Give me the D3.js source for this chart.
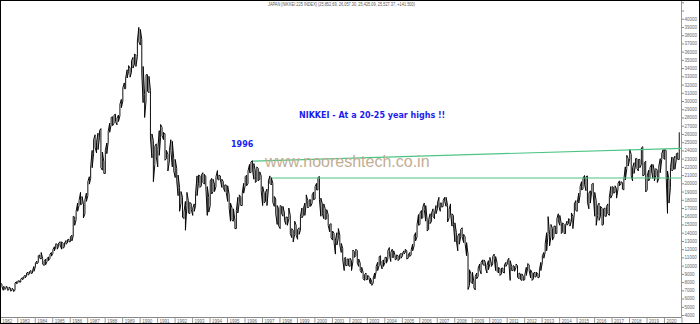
<!DOCTYPE html>
<html>
<head>
<meta charset="utf-8">
<script src="https://cdn.jsdelivr.net/npm/d3@7"></script>
<style>
  body { margin: 0; background: #fff; }
  svg { display: block; }
</style>
</head>
<body>
<svg id="chart" width="700" height="324"></svg>
<script>
// monthly low / high of the index, one line per year, from Jan 1982
var startYear = 1982;
var monthLow = [
  7600,7450,7000,7100,7250,7000,7100,6900,7000,6850,7000,7800,
  7900,8000,8000,8300,8400,8500,8750,8850,9000,9050,9100,9300,
  9850,10200,10400,10900,10800,10200,10000,10100,10500,10600,10900,11150,
  11500,11800,12250,12000,12350,12500,12000,12100,12300,12600,12750,12900,
  12900,13000,13600,14900,15600,16600,17300,17400,17500,15800,16300,17800,
  18500,19900,20600,21900,23600,24400,23700,24100,25600,21900,21600,21200,
  21200,23600,25000,26200,27100,27000,27300,27500,27100,27500,28200,29200,
  30000,31500,31500,32800,33600,32900,33500,34000,34500,34200,35400,37200,
  36800,33300,29800,28000,30000,31200,31000,25500,23100,20200,22300,23200,
  22000,23400,25600,25800,25300,22800,23000,21500,22700,24000,22000,21500,
  20700,20300,18500,16600,17600,15900,15700,14300,17300,16400,16300,16800,
  16100,16600,17300,18500,20000,19500,19700,20100,19900,19600,16100,16500,
  17300,18700,19000,19000,19600,20500,20400,20400,19500,19500,19000,18900,
  17800,17000,15400,15500,15400,14500,14500,16400,17700,17300,17300,18800,
  19700,19700,20000,21300,21300,21700,20500,20100,20300,20300,20500,19100,
  17300,17600,17800,17300,19300,20000,19800,17700,17200,16300,15000,14800,
  14500,16300,16000,15500,15000,14900,15700,13900,13400,12880,13800,13700,
  13200,13800,14300,15800,16100,16100,17600,17000,17200,17200,17600,18000,
  18100,19200,19200,18000,16000,16300,15700,15600,15700,14900,14100,13400,
  13100,12800,11400,12500,13300,12500,11600,10700,9400,10000,10000,10000,
  9900,9400,10500,11000,11200,10300,9900,9400,9100,8400,8200,8300,
  8300,8400,7800,7600,7900,8400,9300,9400,10000,10200,9600,9900,
  10400,10300,10800,11400,10500,11000,11000,10700,10800,10600,10800,10900,
  11200,11400,11600,10800,10900,11100,11300,11800,12400,13000,13500,14900,
  15000,15700,15800,16800,15400,14200,14400,15100,15400,16000,15700,16300,
  16900,17200,16600,17100,17200,17800,17200,15300,15800,16400,14800,15000,
  12900,13000,11800,12600,13500,13500,12800,12700,11200,7100,7600,8000,
  7800,7300,7050,8400,8700,9500,9000,10200,10000,9700,9100,9500,
  10200,9900,10200,10900,9400,9300,9100,8800,9000,9200,9100,9900,
  10200,10400,8200,9400,9400,9300,9800,8600,8400,8300,8200,8200,
  8300,8800,9700,9400,8500,8200,8400,8600,8700,8500,8600,9400,
  10400,10900,11600,11800,13900,12400,13600,13100,13500,13900,13900,15400,
  14900,13900,14100,13900,13900,14900,15100,14800,15400,14500,16400,16700,
  16600,17600,18600,19200,19300,19900,19100,17700,16900,17600,19100,18600,
  16000,14900,16100,15500,16000,14900,15000,16000,16000,16300,16100,18200,
  18600,18800,18900,18200,19300,19700,19900,19300,19200,20400,21800,22100,
  23000,20900,20300,21200,22100,21800,21500,21900,22300,20900,21000,18950,
  19200,20300,20600,21500,20600,20300,21000,20100,20600,21300,22900,23100,
  22900,21000,16350,17600,19500,21500,21700,21700,22900,22900,22900
];
var monthHigh = [
  7900,7750,7450,7400,7500,7350,7400,7250,7250,7100,7900,8050,
  8150,8150,8350,8550,8650,8850,9100,9200,9300,9400,9400,9900,
  10300,10550,11200,11300,11600,10850,10500,10800,10900,11050,11400,11600,
  11950,12300,12650,12600,12750,12900,12900,12700,12750,13050,13150,13200,
  13500,13700,16000,15900,16600,17600,17900,18900,18400,17500,18000,18800,
  20200,20800,22000,24000,25300,25900,25000,26100,26400,26650,23800,22600,
  24000,24900,26300,27300,28000,28100,28300,28400,27900,28300,29600,30200,
  31600,32200,32800,33800,34300,34000,34900,35300,35700,35600,37300,38950,
  38700,37500,34200,30800,33200,33200,33000,31300,26000,25200,24500,24800,
  24100,26400,27150,26800,26200,26000,24000,23500,24000,25300,25100,23000,
  22900,21800,21000,19500,19000,18300,16500,17800,18900,17900,17700,17500,
  17000,17500,18800,20900,21000,20900,21000,21300,21100,20800,19600,18300,
  20300,20600,20500,19900,20800,21550,21000,20900,20500,20200,19800,19800,
  19700,18600,17600,17000,16900,15500,16700,18300,18600,18300,18800,20000,
  20800,21000,21500,22300,22600,22750,22400,21500,22000,21800,21400,20900,
  19600,18800,18900,19300,20300,20900,20700,20000,18400,18100,17300,16900,
  17300,17200,17200,16400,15900,15900,17000,16100,14500,14300,15400,14900,
  14400,14600,16000,17000,16900,17600,18600,17900,18000,18000,18600,18950,
  19600,20000,20700,20833,18200,17500,17500,16900,16800,16200,15000,15100,
  14200,13900,13100,14000,14500,13700,12700,12100,10900,11000,10800,10800,
  10900,10600,11900,11700,12000,11800,10800,10300,9800,9200,8900,9100,
  8800,8700,8500,8000,8500,9100,9900,10400,11100,11200,10500,10700,
  11000,11000,11800,12200,11600,12000,11800,11200,11300,11200,11300,11500,
  11500,11800,12000,11800,11300,11600,11900,12600,13600,14000,15000,16200,
  16400,16700,17100,17600,17300,15500,15600,16300,16400,16900,16300,17300,
  17600,18300,17600,17600,17900,18300,18300,17300,16800,17500,16300,16100,
  15200,14000,13600,13900,14400,14600,13800,13500,12800,11400,9500,9000,
  9200,8000,8700,9100,9700,10200,10400,10700,10700,10400,10000,10600,
  11000,10300,11100,11400,11100,10300,9800,9600,9700,9700,10100,10400,
  10600,10900,10600,9900,10000,9900,10200,10000,9100,9000,9000,8700,
  8900,9800,10250,10100,9500,9100,9100,9200,9200,9000,9500,10400,
  11200,11600,12600,14000,15950,13800,15000,14500,14800,14800,15700,16300,
  16100,15100,15200,15000,14900,15400,15700,15600,16400,16000,17500,17900,
  17700,18800,19600,20200,20600,20950,20800,20900,18800,19100,19900,20000,
  18900,17900,17300,17600,17200,17000,16900,17000,17200,17500,18300,19600,
  19600,19500,19700,19300,20000,20300,20200,20100,20500,22000,23400,23000,
  24130,23500,21900,22500,23000,23000,22900,22900,24300,24450,22500,22700,
  20900,21600,21900,22300,22300,21500,21800,21600,22100,23000,23600,24100,
  24100,24000,21500,20300,21900,23200,23000,23300,23600,23700,26200
];
var yTicks = d3.range(4000, 42001, 1000);
var years = d3.range(1982, 2021);
var upperTrend = [{date: new Date(1996, 5, 26), value: 22700}, {date: new Date(2020, 11, 31), value: 24250}];
var lowerTrend = [{date: new Date(1997, 6, 20), value: 20650}, {date: new Date(2020, 11, 31), value: 20650}];
var titleText = "JAPAN [NIKKEI 225 INDEX] (25,852.69, 26,057.30, 25,425.09, 25,527.37, +141.500)";

var svg = d3.select("#chart");
var axisX = 681, axisY = 317.5;

var x = d3.scaleTime()
  .domain([new Date(1982, 0, 1), new Date(2021, 0, 1)])
  .range([-0.2, 681.5]);
var y = d3.scaleLinear()
  .domain([4000, 41000])
  .range([315, 10.5]);

// zigzag through each month's low and high so the bars join up
var pts = [];
monthLow.forEach((lo, i) => {
  var d = new Date(startYear, i, 15);
  var pair = i % 2 === 0 ? [lo, monthHigh[i]] : [monthHigh[i], lo];
  pair.forEach(v => pts.push({date: d, value: v}));
});

var line = d3.line().x(d => x(d.date)).y(d => y(d.value));

svg.append("path")
  .datum(pts)
  .attr("fill", "none")
  .attr("stroke", "#000")
  .attr("stroke-width", 0.95)
  .attr("stroke-linejoin", "round")
  .attr("d", line);

// trend lines
[upperTrend, lowerTrend].forEach(t => {
  svg.append("path")
    .datum(t)
    .attr("fill", "none")
    .attr("stroke", "#4cc483")
    .attr("stroke-width", 1.2)
    .attr("d", line);
});

// right axis
svg.append("line")
  .attr("x1", axisX + 0.5).attr("x2", axisX + 0.5)
  .attr("y1", 0).attr("y2", axisY)
  .attr("stroke", "#999");
var gy = svg.append("g")
  .attr("transform", `translate(${axisX + 0.5},0)`)
  .call(d3.axisRight(y).tickValues(yTicks).tickSize(2.5)
    .tickFormat(d => d <= 40000 ? d : ""));
gy.select(".domain").remove();
gy.selectAll("line").attr("stroke", "#888");
gy.selectAll("text")
  .attr("x", 3)
  .attr("fill", "#666")
  .style("font", "4.5px 'Liberation Sans', Arial, sans-serif");

// bottom axis
svg.append("line")
  .attr("x1", 0).attr("x2", axisX + 0.5)
  .attr("y1", axisY).attr("y2", axisY)
  .attr("stroke", "#888");
var gx = svg.append("g")
  .attr("transform", `translate(0,${axisY})`)
  .call(d3.axisBottom(x).tickValues(years.map(v => new Date(v, 0, 1)).concat([new Date(2021, 0, 1)]))
    .tickSize(6).tickFormat(d => d.getFullYear() <= 2020 ? d3.timeFormat("%Y")(d) : ""));
gx.select(".domain").remove();
gx.selectAll("line").attr("stroke", "#999");
gx.selectAll("text")
  .attr("x", 2)
  .attr("y", 5)
  .attr("dy", 0)
  .attr("text-anchor", "start")
  .attr("fill", "#666")
  .style("font", "4.5px 'Liberation Sans', Arial, sans-serif");

// title
svg.append("text")
  .attr("x", 268).attr("y", 5.8)
  .attr("textLength", 147)
  .attr("lengthAdjust", "spacingAndGlyphs")
  .attr("fill", "#555")
  .style("font", "4.5px 'Liberation Sans', Arial, sans-serif")
  .text(titleText);

// annotations
svg.append("text")
  .attr("x", 265).attr("y", 167)
  .attr("fill", "#c2ad94")
  .style("font", "16px 'Liberation Sans', Arial, sans-serif")
  .text("www.nooreshtech.co.in");

svg.append("text")
  .attr("x", 299).attr("y", 118)
  .attr("fill", "#1c1cf0")
  .style("font", "bold 8px 'DejaVu Sans', Verdana, sans-serif")
  .text("NIKKEI - At a 20-25 year highs !!");

svg.append("text")
  .attr("x", 231).attr("y", 147)
  .attr("fill", "#1c1cf0")
  .style("font", "bold 8px 'DejaVu Sans', Verdana, sans-serif")
  .text("1996");

// frame
svg.append("rect")
  .attr("x", 0.5).attr("y", 0.5)
  .attr("width", 699).attr("height", 323)
  .attr("fill", "none")
  .attr("stroke", "#000");
</script>
</body>
</html>
